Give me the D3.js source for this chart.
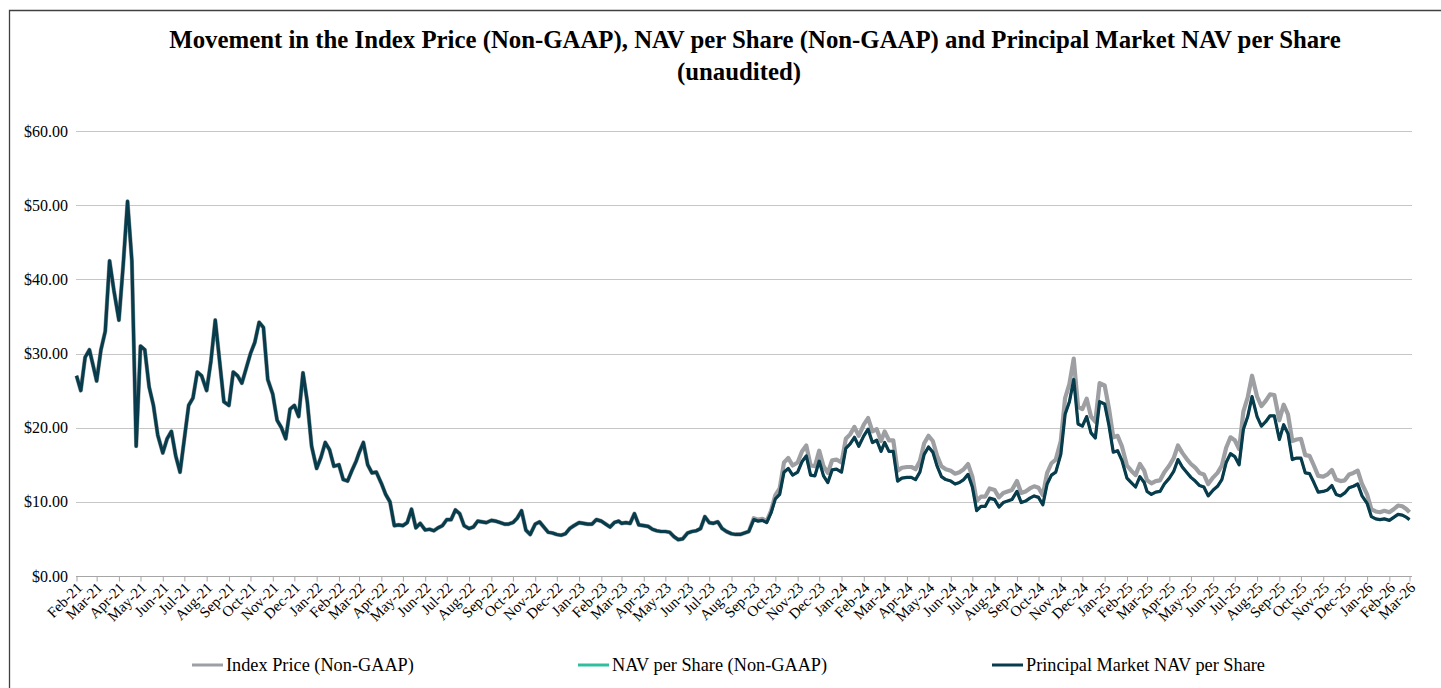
<!DOCTYPE html>
<html>
<head>
<meta charset="utf-8">
<script src="https://cdn.jsdelivr.net/npm/d3@7"></script>
<style>
  body{margin:0;background:#fff}
  svg text{font-family:"Liberation Serif","Times New Roman",serif;fill:#000}
</style>
</head>
<body>
<div id="chart"></div>
<script>
// readings taken off the chart on these days of every month
const sampleDays = [1, 7, 13, 19, 25];
const firstMonth = new Date(2021, 1, 1);
const lastMonth  = new Date(2026, 2, 1);
const yTicks = [0, 10, 20, 30, 40, 50, 60];

const seriesNames  = ['Index Price (Non-GAAP)', 'NAV per Share (Non-GAAP)', 'Principal Market NAV per Share'];
const seriesColors = ['#9d9fa2', '#2fbf9f', '#083b4b'];

// one row per month, Feb-21 .. Mar-26
const principalNav = [
  27.0, 25.0, 29.5, 30.5, 28.0,   // Feb-21
  26.3, 30.5, 33.0, 42.5, 38.5,
  34.5, 42.0, 50.5, 42.5, 17.5,
  31.0, 30.5, 25.5, 23.0, 19.0,
  16.6, 18.5, 19.5, 16.2, 14.0,
  18.5, 23.0, 24.0, 27.5, 27.0,
  25.0, 29.0, 34.5, 29.0, 23.5,
  23.0, 27.5, 27.0, 26.0, 28.0,
  30.0, 31.5, 34.2, 33.5, 26.5,
  24.5, 21.0, 20.0, 18.5, 22.5,
  23.0, 21.5, 27.4, 23.5, 17.5,
  14.5, 16.0, 18.0, 17.0, 14.8,   // Jan-22
  15.0, 13.0, 12.8, 14.2, 15.5,
  16.6, 18.0, 15.0, 13.9, 14.0,
  12.5, 11.0, 10.0,  6.8,  6.9,
   6.8,  7.2,  9.0,  6.5,  7.1,
   6.2,  6.3,  6.1,  6.5,  6.8,
   7.6,  7.6,  8.9,  8.4,  6.8,
   6.4,  6.6,  7.4,  7.3,  7.2,
   7.5,  7.4,  7.2,  7.0,  7.0,
   7.2,  7.8,  8.8,  6.2,  5.6,
   7.0,  7.3,  6.6,  5.9,  5.8,
   5.6,  5.5,  5.7,  6.4,  6.8,
   7.2,  7.1,  7.0,  7.0,  7.6,   // Jan-23
   7.4,  7.0,  6.6,  7.2,  7.4,
   7.1,  7.2,  7.1,  8.4,  6.9,
   6.8,  6.7,  6.3,  6.1,  6.0,
   6.0,  5.9,  5.3,  4.9,  5.0,
   5.8,  6.0,  6.1,  6.4,  8.0,
   7.2,  7.1,  7.3,  6.4,  6.0,
   5.7,  5.6,  5.6,  5.8,  6.0,
   7.6,  7.4,  7.5,  7.2,  8.5,
  10.4, 11.0, 14.0, 14.5, 13.6,
  14.0, 15.4, 16.2, 13.6, 13.5,
  15.5, 13.5, 12.6, 14.3, 14.4,
  14.0, 17.2, 17.8, 18.7, 17.5,   // Jan-24
  18.9, 19.8, 18.0, 18.3, 16.8,
  18.0, 16.8, 16.8, 12.8, 13.2,
  13.3, 13.3, 13.0, 14.0, 16.4,
  17.4, 16.7, 14.8, 13.4, 13.0,
  12.8, 12.4, 12.6, 13.0, 13.7,
  12.0,  8.8,  9.4,  9.4, 10.5,
  10.3,  9.3,  9.9, 10.1, 10.3,
  11.4,  9.9, 10.1, 10.5, 10.8,
  10.6,  9.6, 12.4, 13.6, 14.0,
  16.4, 21.8, 23.5, 26.5, 20.5,
  20.2, 21.5, 19.3, 18.6, 23.5,
  23.2, 20.3, 16.7, 16.9, 15.6,   // Jan-25
  13.2, 12.6, 12.0, 13.4, 12.6,
  11.4, 11.0, 11.3, 11.4, 12.4,
  13.2, 14.1, 15.7, 14.7, 14.0,
  13.3, 12.8, 12.2, 12.0, 10.8,
  11.6, 12.1, 13.0, 15.3, 16.5,
  16.1, 15.0, 19.8, 21.5, 24.2,
  21.5, 20.2, 20.8, 21.6, 21.6,
  18.4, 20.4, 19.2, 15.7, 15.9,
  15.9, 13.9, 13.8, 12.6, 11.3,
  11.4, 11.6, 12.2, 11.0, 10.8,
  11.2, 11.9, 12.1, 12.4, 10.8,
   9.8,  8.0,  7.7,  7.6,  7.7,   // Jan-26
   7.5,  7.9,  8.3,  8.2,  7.9,
   7.6                            // Mar-26
];

const indexPrice = [
  27.0, 25.0, 29.5, 30.5, 28.0,   // Feb-21
  26.3, 30.5, 33.0, 42.5, 38.5,
  34.5, 42.0, 50.5, 42.5, 17.5,
  31.0, 30.5, 25.5, 23.0, 19.0,
  16.6, 18.5, 19.5, 16.2, 14.0,
  18.5, 23.0, 24.0, 27.5, 27.0,
  25.0, 29.0, 34.5, 29.0, 23.5,
  23.0, 27.5, 27.0, 26.0, 28.0,
  30.0, 31.5, 34.2, 33.5, 26.5,
  24.5, 21.0, 20.0, 18.5, 22.5,
  23.0, 21.5, 27.4, 23.5, 17.5,
  14.5, 16.0, 18.0, 17.0, 14.8,   // Jan-22
  15.0, 13.0, 12.8, 14.2, 15.5,
  16.6, 18.0, 15.0, 13.9, 14.0,
  12.5, 11.0, 10.0,  6.8,  6.9,
   6.8,  7.2,  9.0,  6.5,  7.1,
   6.2,  6.3,  6.1,  6.5,  6.8,
   7.6,  7.6,  8.9,  8.4,  6.8,
   6.4,  6.6,  7.4,  7.3,  7.2,
   7.5,  7.4,  7.2,  7.0,  7.0,
   7.2,  7.8,  8.8,  6.2,  5.6,
   7.0,  7.3,  6.6,  5.9,  5.8,
   5.6,  5.5,  5.7,  6.4,  6.8,
   7.2,  7.1,  7.0,  7.0,  7.6,   // Jan-23
   7.4,  7.0,  6.6,  7.2,  7.4,
   7.1,  7.2,  7.1,  8.4,  6.9,
   6.8,  6.7,  6.3,  6.1,  6.0,
   6.0,  5.9,  5.3,  4.9,  5.0,
   5.8,  6.0,  6.1,  6.4,  8.0,
   7.2,  7.1,  7.3,  6.4,  6.0,
   5.7,  5.6,  5.6,  5.8,  6.0,
   7.8,  7.6,  7.7,  7.4,  8.8,
  10.9, 11.8, 15.3, 15.9, 14.9,
  15.3, 16.8, 17.6, 14.9, 14.8,
  16.9, 14.8, 13.9, 15.6, 15.7,
  15.3, 18.5, 19.1, 20.1, 18.9,   // Jan-24
  20.4, 21.3, 19.5, 19.8, 18.2,
  19.5, 18.3, 18.3, 14.2, 14.6,
  14.7, 14.7, 14.4, 15.5, 17.9,
  18.9, 18.2, 16.2, 14.8, 14.4,
  14.2, 13.8, 14.0, 14.4, 15.1,
  13.4, 10.1, 10.7, 10.7, 11.8,
  11.6, 10.6, 11.2, 11.4, 11.6,
  12.8, 11.2, 11.4, 11.8, 12.1,
  11.9, 10.9, 13.9, 15.2, 15.7,
  18.2, 24.0, 25.9, 29.3, 22.8,
  22.5, 23.9, 21.5, 20.8, 26.0,
  25.7, 22.6, 18.7, 18.9, 17.5,   // Jan-25
  14.9, 14.2, 13.6, 15.1, 14.2,
  12.9, 12.5, 12.8, 12.9, 14.0,
  14.9, 15.9, 17.6, 16.6, 15.8,
  15.1, 14.6, 13.9, 13.7, 12.4,
  13.3, 13.9, 14.9, 17.3, 18.7,
  18.3, 17.1, 22.2, 24.1, 27.0,
  24.2, 22.9, 23.6, 24.5, 24.4,
  21.0, 23.1, 21.8, 18.2, 18.4,
  18.5, 16.3, 16.2, 14.9, 13.5,
  13.4, 13.7, 14.3, 13.0, 12.8,
  12.9, 13.7, 13.9, 14.2, 12.4,
  11.0,  9.0,  8.7,  8.6,  8.8,   // Jan-26
   8.6,  9.0,  9.5,  9.4,  9.0,
   8.6                            // Mar-26
];

// NAV per share sits under the principal market line for the whole period
const navPerShare = principalNav;

const W = 1441, H = 688;
const svg = d3.select('#chart').append('svg').attr('width', W).attr('height', H);

// frame (only top and left edge visible)
svg.append('path').attr('d', 'M9.5,700V10.5H1460')
  .attr('fill', 'none').attr('stroke', '#404040').attr('stroke-width', 1.3);

// title
svg.append('text').attr('x', 755).attr('y', 48).attr('text-anchor', 'middle')
  .attr('font-size', '24.8px').attr('font-weight', 'bold')
  .text('Movement in the Index Price (Non-GAAP), NAV per Share (Non-GAAP) and Principal Market NAV per Share');
svg.append('text').attr('x', 739).attr('y', 80).attr('text-anchor', 'middle')
  .attr('font-size', '24.8px').attr('font-weight', 'bold').text('(unaudited)');

const months = d3.timeMonth.range(firstMonth, d3.timeMonth.offset(lastMonth, 1));
const dates = [];
months.forEach(m => sampleDays.forEach(d => dates.push(new Date(m.getFullYear(), m.getMonth(), d))));
dates.length = principalNav.length;

const x = d3.scaleTime().domain([firstMonth, lastMonth]).range([76.5, 1409.5]);
const y = d3.scaleLinear().domain([0, 60]).range([576, 131]);

// gridlines
svg.append('g').selectAll('line').data(yTicks.filter(v => v > 0)).join('line')
  .attr('x1', 76).attr('x2', 1412)
  .attr('y1', d => Math.round(y(d)) + .5).attr('y2', d => Math.round(y(d)) + .5)
  .attr('stroke', '#c6c6c6').attr('stroke-width', 1.2);

// y labels
svg.append('g').selectAll('text').data(yTicks).join('text')
  .attr('x', 68).attr('y', d => y(d)).attr('dy', '0.35em')
  .attr('text-anchor', 'end').attr('font-size', '16px')
  .text(d => '$' + d3.format('.2f')(d));

// x axis
const xAxis = svg.append('g').attr('transform', 'translate(0,576.5)')
  .call(d3.axisBottom(x).tickValues(months).tickSize(5).tickSizeOuter(0).tickFormat(''));
xAxis.select('.domain').attr('stroke', '#a6a6a6').attr('d', 'M76,0H1412');
xAxis.selectAll('.tick line').attr('stroke', '#a6a6a6');
svg.append('g').selectAll('text').data(months).join('text')
  .attr('transform', d => `translate(${x(d) + 3},${585}) rotate(-45)`)
  .attr('text-anchor', 'end').attr('dy', '0.35em').attr('font-size', '15px')
  .text(d3.timeFormat('%b-%y'));

// lines
const line = d3.line().x((d, i) => x(dates[i])).y(d => y(d));
[[indexPrice, 0, 4.2], [navPerShare, 1, 2.4], [principalNav, 2, 3.2]].forEach(([vals, k, w]) => {
  svg.append('path').datum(vals).attr('d', line)
    .attr('fill', 'none').attr('stroke', seriesColors[k]).attr('stroke-width', w)
    .attr('stroke-linejoin', 'round');
});

// legend
const legendX = [192, 578, 992];
const lg = svg.append('g').selectAll('g').data(seriesNames).join('g')
  .attr('transform', (d, i) => `translate(${legendX[i]},665)`);
lg.append('line').attr('x1', 0).attr('x2', 31)
  .attr('stroke', (d, i) => seriesColors[i]).attr('stroke-width', 3);
lg.append('text').attr('x', 34).attr('dy', '0.35em').attr('font-size', '18.3px').text(d => d);
</script>
</body>
</html>
